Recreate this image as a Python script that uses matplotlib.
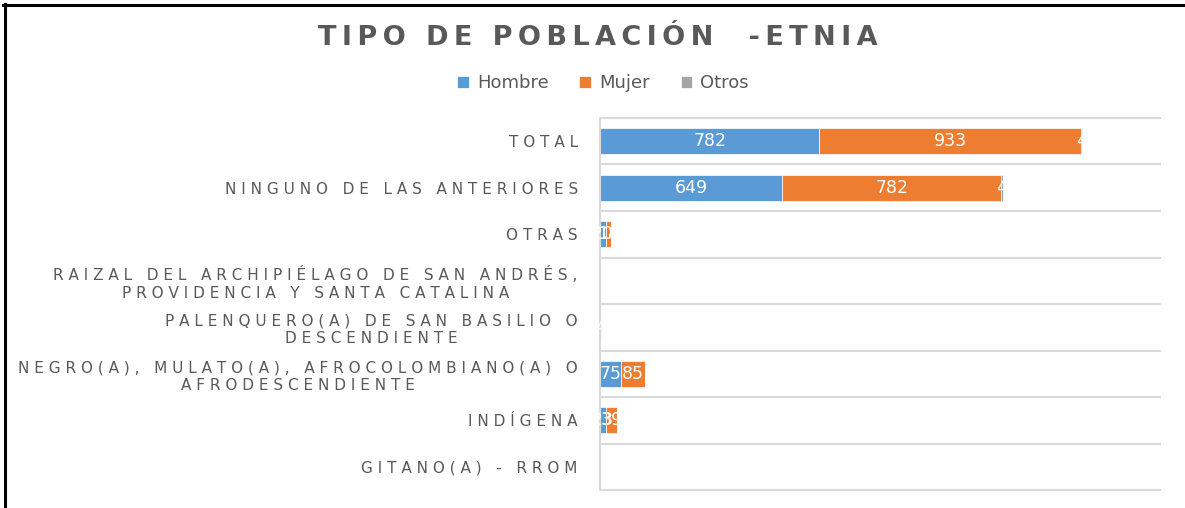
import numpy as np
import matplotlib
matplotlib.use('Agg')
import matplotlib.pyplot as plt
from matplotlib.lines import Line2D

# categorias de abajo hacia arriba (orden de Excel en barras horizontales)
categories = [
    "GITANO(A) - RROM",
    "INDÍGENA",
    "NEGRO(A), MULATO(A), AFROCOLOMBIANO(A) O\nAFRODESCENDIENTE",
    "PALENQUERO(A) DE SAN BASILIO O\nDESCENDIENTE",
    "RAIZAL DEL ARCHIPIÉLAGO DE SAN ANDRÉS,\nPROVIDENCIA Y SANTA CATALINA",
    "OTRAS",
    "NINGUNO DE LAS ANTERIORES",
    "TOTAL",
]
hombre = [0, 23, 75, 0, 0, 20, 649, 782]
mujer = [0, 39, 85, 4, 0, 18, 782, 933]
otros = [0, 0, 0, 0, 0, 0, 4, 4]
series_names = ["Hombre", "Mujer", "Otros"]
series_colors = ["#5B9BD5", "#ED7D31", "#A5A5A5"]

TITLE = "TIPO DE POBLACIÓN  -ETNIA"
TEXT_GRAY = "#595959"
GRID_GRAY = "#D9D9D9"
W, H = 1185, 508


def spaced(label, sep=" "):
    """Excel-like letter spacing: a separator between every character."""
    return "\n".join(sep.join(line) for line in label.split("\n"))


fig = plt.figure(figsize=(W / 100, H / 100), dpi=100)
ax = fig.add_axes([600 / W, 18 / H, 561 / W, 372 / H])

n = len(categories)
y = np.arange(n)
left = np.zeros(n)
for vals, name, color in zip([hombre, mujer, otros], series_names, series_colors):
    vals = np.array(vals)
    bars = ax.barh(y, vals, left=left, height=0.55, color=color,
                   edgecolor="white", linewidth=0.5, label=name, zorder=2)
    labels = [str(v) if v else "" for v in vals]
    ax.bar_label(bars, labels=labels, label_type="center", color="white",
                 fontsize=12.5, zorder=3)
    left += vals

ax.set_xlim(0, 2000)
ax.set_ylim(-0.5, n - 0.5)
ax.set_xticks([])
ax.set_yticks(y, [spaced(c) for c in categories], fontsize=11,
              color=TEXT_GRAY, multialignment="center")
ax.tick_params(axis="y", length=0, pad=16)

for side in ["top", "right", "bottom"]:
    ax.spines[side].set_visible(False)
ax.spines["left"].set_color(GRID_GRAY)
ax.spines["left"].set_linewidth(1.5)

# separadores horizontales entre categorias
ax.hlines(np.arange(-0.5, n), 0, 2000, color=GRID_GRAY, lw=1.5,
          clip_on=False, zorder=0)

# titulo con espaciado fino entre letras (thin space)
fig.text(0.5045, 1 - 38 / H, spaced(TITLE, "\u2009"), ha="center", va="center",
         fontsize=19.5, fontweight="bold", color=TEXT_GRAY)

fig.legend(loc="center", bbox_to_anchor=(603 / W, 1 - 83 / H), ncol=3,
           frameon=False, fontsize=13, handlelength=0.65, handleheight=0.65,
           handletextpad=0.45, columnspacing=1.7, labelcolor=TEXT_GRAY)

# marco negro (solo arriba e izquierda, como en la captura)
fig.add_artist(Line2D([3 / W, 1], [1 - 5 / H, 1 - 5 / H], color="black",
                      lw=2.2, transform=fig.transFigure))
fig.add_artist(Line2D([5 / W, 5 / W], [0, 1 - 4 / H], color="black",
                      lw=2.2, transform=fig.transFigure))

fig.savefig("out.png", dpi=100)
